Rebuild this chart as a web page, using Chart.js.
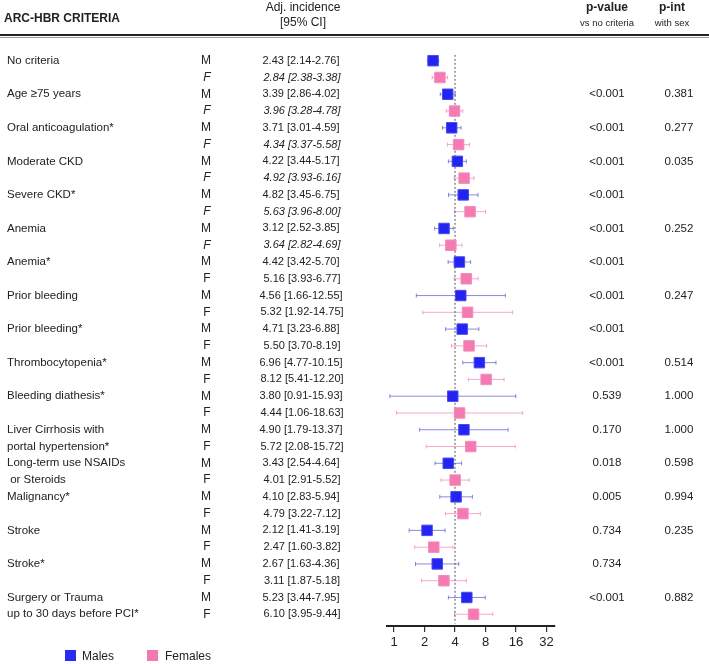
<!DOCTYPE html>
<html><head><meta charset="utf-8">
<script src="https://cdn.jsdelivr.net/npm/chart.js@4.4.1/dist/chart.umd.min.js"></script>
<style>html,body{margin:0;padding:0;background:#fff}#wrap{width:709px;height:664px;position:relative}</style>
</head><body><div id="wrap"><canvas id="c" width="709" height="664"></canvas></div>
<script>
const criteria = ["No criteria","Age \u226575 years","Oral anticoagulation*","Moderate CKD","Severe CKD*","Anemia","Anemia*","Prior bleeding","Prior bleeding*","Thrombocytopenia*","Bleeding diathesis*","Liver Cirrhosis with","Long-term use NSAIDs","Malignancy*","Stroke","Stroke*","Surgery or Trauma"];
const criteriaLine2 = ["","","","","","","","","","","","portal hypertension*"," or Steroids","","","","up to 30 days before PCI*"];
const maleEst = [2.43,3.39,3.71,4.22,4.82,3.12,4.42,4.56,4.71,6.96,3.80,4.90,3.43,4.10,2.12,2.67,5.23];
const maleLo  = [2.14,2.86,3.01,3.44,3.45,2.52,3.42,1.66,3.23,4.77,0.91,1.79,2.54,2.83,1.41,1.63,3.44];
const maleHi  = [2.76,4.02,4.59,5.17,6.75,3.85,5.70,12.55,6.88,10.15,15.93,13.37,4.64,5.94,3.19,4.36,7.95];
const femaleEst = [2.84,3.96,4.34,4.92,5.63,3.64,5.16,5.32,5.50,8.12,4.44,5.72,4.01,4.79,2.47,3.11,6.10];
const femaleLo  = [2.38,3.28,3.37,3.93,3.96,2.82,3.93,1.92,3.70,5.41,1.06,2.08,2.91,3.22,1.60,1.87,3.95];
const femaleHi  = [3.38,4.78,5.58,6.16,8.00,4.69,6.77,14.75,8.19,12.20,18.63,15.72,5.52,7.12,3.82,5.18,9.44];
const pValue = ["","<0.001","<0.001","<0.001","<0.001","<0.001","<0.001","<0.001","<0.001","<0.001","0.539","0.170","0.018","0.005","0.734","0.734","<0.001"];
const pInt   = ["","0.381","0.277","0.035","","0.252","","0.247","","0.514","1.000","1.000","0.598","0.994","0.235","","0.882"];
const italicFemaleRows = 6;
const xTicks = [1,2,4,8,16,32];
const refValue = 4;

const FONT = '"Liberation Sans", Arial, Helvetica, sans-serif';
const fmt = v => v.toFixed(2);

const maleData = maleEst.map((v,i)=>({x:v,y:2*i}));
const femaleData = femaleEst.map((v,i)=>({x:v,y:2*i+1}));

const errorBars = {
  id:'errorBars',
  beforeDatasetsDraw(chart){
    const ctx=chart.ctx, xs=chart.scales.x, ys=chart.scales.y;
    const draw=(lo,hi,row,color)=>{
      const y=ys.getPixelForValue(row), x1=xs.getPixelForValue(lo), x2=xs.getPixelForValue(hi);
      ctx.save(); ctx.strokeStyle=color; ctx.lineWidth=1;
      ctx.beginPath(); ctx.moveTo(x1,y); ctx.lineTo(x2,y);
      ctx.moveTo(x1,y-2); ctx.lineTo(x1,y+2);
      ctx.moveTo(x2,y-2); ctx.lineTo(x2,y+2);
      ctx.stroke(); ctx.restore();
    };
    for(let i=0;i<criteria.length;i++){
      draw(maleLo[i],maleHi[i],2*i,'rgba(60,60,205,0.6)');
      draw(femaleLo[i],femaleHi[i],2*i+1,'rgba(240,110,170,0.6)');
    }
  }
};

const textLayer = {
  id:'textLayer',
  afterDraw(chart){
    const ctx=chart.ctx, ys=chart.scales.y;
    ctx.save();
    ctx.textBaseline='middle';
    ctx.fillStyle='#222';
    // header
    ctx.textAlign='left'; ctx.font='bold 12px '+FONT;
    ctx.fillText('ARC-HBR CRITERIA',4,19);
    ctx.textAlign='center'; ctx.font='12px '+FONT;
    ctx.fillText('Adj. incidence',303,8);
    ctx.fillText('[95% CI]',303,23);
    ctx.font='bold 12px '+FONT;
    ctx.fillText('p-value',607,8);
    ctx.fillText('p-int',672,8);
    ctx.font='9.5px '+FONT;
    ctx.fillText('vs no criteria',607,23);
    ctx.fillText('with sex',672,23);
    ctx.strokeStyle='#222'; ctx.lineWidth=2;
    ctx.beginPath(); ctx.moveTo(0,35); ctx.lineTo(709,35); ctx.stroke();
    ctx.strokeStyle='#999'; ctx.lineWidth=1;
    ctx.beginPath(); ctx.moveTo(0,37.5); ctx.lineTo(709,37.5); ctx.stroke();
    // rows
    for(let i=0;i<criteria.length;i++){
      const yM=ys.getPixelForValue(2*i), yF=ys.getPixelForValue(2*i+1);
      const it = i<italicFemaleRows ? 'italic ' : '';
      ctx.fillStyle='#222';
      ctx.textAlign='left'; ctx.font='11.5px '+FONT;
      ctx.fillText(criteria[i],7,yM);
      if(criteriaLine2[i]) ctx.fillText(criteriaLine2[i],7,yF);
      ctx.textAlign='center'; ctx.font='12px '+FONT;
      ctx.fillText('M',206,yM);
      ctx.font=it+'12px '+FONT;
      ctx.fillText('F',207,yF);
      ctx.font='11px '+FONT;
      ctx.fillText(fmt(maleEst[i])+' ['+fmt(maleLo[i])+'-'+fmt(maleHi[i])+']',301,yM);
      ctx.font=it+'11px '+FONT;
      ctx.fillText(fmt(femaleEst[i])+' ['+fmt(femaleLo[i])+'-'+fmt(femaleHi[i])+']',302,yF);
      ctx.font='11.5px '+FONT;
      if(pValue[i]) ctx.fillText(pValue[i],607,yM);
      if(pInt[i]) ctx.fillText(pInt[i],679,yM);
    }
    // legend
    ctx.fillStyle='#2a2af5'; ctx.fillRect(65,650,11,11);
    ctx.fillStyle='#f27ab3'; ctx.fillRect(147,650,11,11);
    ctx.fillStyle='#222'; ctx.textAlign='left'; ctx.font='12px '+FONT;
    ctx.fillText('Males',82,657);
    ctx.fillText('Females',165,657);
    ctx.restore();
  }
};

new Chart(document.getElementById('c'),{
  type:'scatter',
  data:{datasets:[
    {label:'ref',type:'line',data:[{x:refValue,y:-0.35},{x:refValue,y:33.55}],borderColor:'#555',borderWidth:1,borderDash:[2,2],pointRadius:0,order:3},
    {label:'Males',data:maleData,pointStyle:'rect',pointRadius:7.4,backgroundColor:'#2323f2',borderColor:'#4a4af0',borderWidth:1,order:1},
    {label:'Females',data:femaleData,pointStyle:'rect',pointRadius:7.4,backgroundColor:'#f47ab1',borderColor:'#f28cbc',borderWidth:1,order:1}
  ]},
  options:{
    responsive:false, animation:false, devicePixelRatio:1,
    layout:{padding:{left:387,right:154,top:54,bottom:0}},
    plugins:{legend:{display:false},tooltip:{enabled:false}},
    scales:{
      x:{type:'logarithmic',min:0.853,max:38.8,position:'bottom',
        afterBuildTicks:s=>{s.ticks=xTicks.map(v=>({value:v}));},
        afterFit:s=>{s.height=38;},
        ticks:{callback:v=>String(v),font:{size:13,family:FONT},color:'#222',padding:3,autoSkip:false,maxRotation:0},
        grid:{drawOnChartArea:false,drawTicks:true,tickLength:6,color:'#333',lineWidth:1.2},
        border:{display:true,color:'#222',width:2}
      },
      y:{type:'linear',display:false,min:-0.4,max:33.7,reverse:true}
    }
  },
  plugins:[errorBars,textLayer]
});
</script></body></html>
